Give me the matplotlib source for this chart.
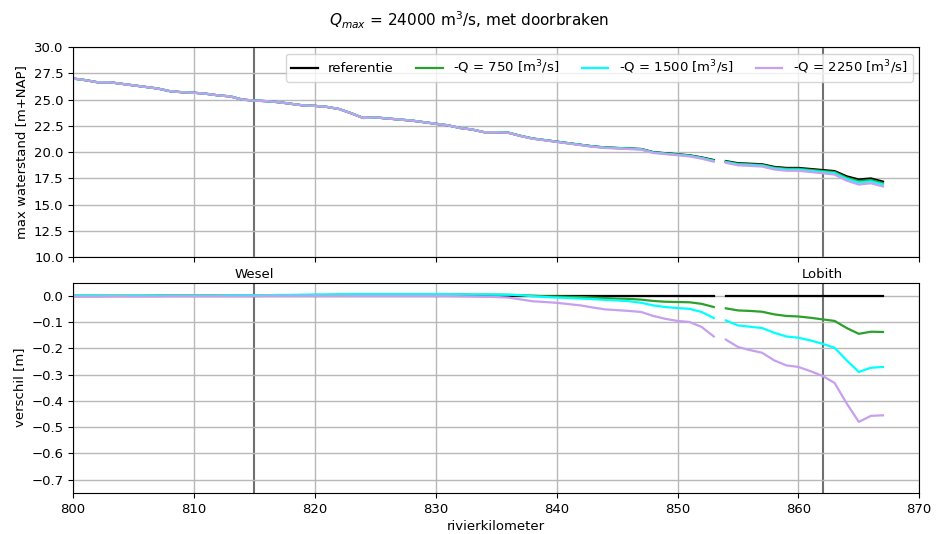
import numpy as np
import matplotlib
matplotlib.use("Agg")
import matplotlib.pyplot as plt

# river kilometres; the NaN splits the profile into two stretches
km = [800, 801, 802, 803, 804, 805, 806, 807, 808, 809,
      810, 811, 812, 813, 814, 815, 816, 817, 818, 819,
      820, 821, 822, 823, 824, 825, 826, 827, 828, 829,
      830, 831, 832, 833, 834, 835, 836, 837, 838, 839,
      840, 841, 842, 843, 844, 845, 846, 847, 848, 849,
      850, 851, 852, 853, np.nan,
      854, 855, 856, 857, 858, 859,
      860, 861, 862, 863, 864, 865, 866, 867]

# max water level of the reference run [m+NAP]
h_ref = [27.00, 26.85, 26.65, 26.65, 26.50, 26.35, 26.20, 26.05, 25.80, 25.70,
         25.65, 25.55, 25.40, 25.30, 25.00, 24.90, 24.85, 24.75, 24.60, 24.45,
         24.40, 24.30, 24.10, 23.70, 23.25, 23.30, 23.20, 23.10, 23.00, 22.85,
         22.70, 22.55, 22.30, 22.15, 21.90, 21.90, 21.85, 21.55, 21.30, 21.15,
         21.00, 20.85, 20.70, 20.55, 20.45, 20.40, 20.35, 20.30, 20.00, 19.90,
         19.80, 19.70, 19.50, 19.25, np.nan,
         19.15, 18.95, 18.90, 18.85, 18.60, 18.50,
         18.50, 18.40, 18.30, 18.20, 17.70, 17.40, 17.50, 17.20]

# difference with the reference [m] for each discharge reduction
d_750 = [0.000, 0.000, 0.000, 0.000, 0.000, 0.000, 0.000, 0.001, 0.001, 0.001,
         0.001, 0.001, 0.001, 0.001, 0.001, 0.001, 0.001, 0.002, 0.002, 0.002,
         0.003, 0.003, 0.004, 0.004, 0.005, 0.005, 0.005, 0.005, 0.005, 0.005,
         0.005, 0.005, 0.005, 0.004, 0.004, 0.004, 0.003, 0.002, 0.000, -0.002,
         -0.003, -0.004, -0.005, -0.007, -0.009, -0.011, -0.012, -0.015, -0.020, -0.023,
         -0.024, -0.025, -0.031, -0.043, np.nan,
         -0.048, -0.056, -0.058, -0.061, -0.071, -0.077,
         -0.079, -0.084, -0.090, -0.096, -0.123, -0.145, -0.137, -0.138]

d_1500 = [0.000, 0.000, 0.000, 0.000, 0.000, 0.001, 0.001, 0.001, 0.001, 0.001,
          0.001, 0.001, 0.001, 0.002, 0.002, 0.002, 0.002, 0.003, 0.003, 0.004,
          0.004, 0.005, 0.005, 0.006, 0.006, 0.006, 0.006, 0.006, 0.006, 0.006,
          0.006, 0.006, 0.005, 0.005, 0.005, 0.004, 0.004, 0.002, -0.002, -0.005,
          -0.007, -0.009, -0.011, -0.013, -0.016, -0.018, -0.021, -0.027, -0.037, -0.043,
          -0.047, -0.050, -0.062, -0.085, np.nan,
          -0.094, -0.113, -0.118, -0.123, -0.141, -0.155,
          -0.160, -0.170, -0.183, -0.198, -0.246, -0.290, -0.274, -0.271]

d_2250 = [-0.004, -0.004, -0.004, -0.003, -0.003, -0.003, -0.003, -0.003, -0.002, -0.002,
          -0.002, -0.002, -0.002, -0.002, -0.002, -0.002, -0.001, -0.001, -0.001, -0.001,
          -0.001, -0.001, -0.001, -0.001, -0.001, -0.001, -0.001, -0.001, -0.001, -0.001,
          -0.001, -0.001, -0.002, -0.003, -0.004, -0.005, -0.007, -0.014, -0.021, -0.024,
          -0.027, -0.032, -0.037, -0.045, -0.052, -0.055, -0.058, -0.062, -0.077, -0.088,
          -0.096, -0.100, -0.119, -0.155, np.nan,
          -0.167, -0.195, -0.207, -0.217, -0.246, -0.265,
          -0.271, -0.287, -0.305, -0.332, -0.410, -0.480, -0.457, -0.455]

labels = ["referentie", "-Q = 750 [m$^3$/s]", "-Q = 1500 [m$^3$/s]", "-Q = 2250 [m$^3$/s]"]
colors = ["black", "#2ca02c", "cyan", "#c79fef"]

# gauging stations along the river
stations = {"Wesel": 815, "Lobith": 862}

km = np.array(km)
h_ref = np.array(h_ref)
diffs = [np.zeros_like(h_ref), np.array(d_750), np.array(d_1500), np.array(d_2250)]

plt.rcParams["font.size"] = 9.5

fig, (ax1, ax2) = plt.subplots(2, 1, sharex=True, figsize=(9.38, 5.34), dpi=100)
fig.subplots_adjust(left=0.078, right=0.980, top=0.912, bottom=0.077, hspace=0.12)

for d, lab, c in zip(diffs, labels, colors):
    ax1.plot(km, h_ref + d, color=c, lw=1.6, label=lab)
    ax2.plot(km, d, color=c, lw=1.6)

for name, x in stations.items():
    for ax in (ax1, ax2):
        ax.axvline(x, color="#707070", lw=1.5, zorder=1)
    ax2.annotate(name, (x, 0.05), xytext=(0, 1), textcoords="offset points",
                 ha="center", va="bottom", annotation_clip=False)

ax1.set_ylim(10, 30)
ax1.set_yticks(np.arange(10, 30.1, 2.5))
ax1.set_ylabel("max waterstand [m+NAP]")
ax1.grid(True, color="#b8b8b8", lw=1)
ax1.legend(loc="upper right", ncol=4, handlelength=2.0,
           borderaxespad=0.5, columnspacing=1.7)

ax2.set_xlim(800, 870)
ax2.set_ylim(-0.75, 0.05)
ax2.set_yticks(np.arange(-0.7, 0.01, 0.1))
ax2.set_ylabel("verschil [m]")
ax2.set_xlabel("rivierkilometer", labelpad=3)
ax2.grid(True, color="#b8b8b8", lw=1)

fig.suptitle("$Q_{max}$ = 24000 m$^3$/s, met doorbraken", fontsize=11, y=0.982)

fig.savefig("out.png", dpi=100)
